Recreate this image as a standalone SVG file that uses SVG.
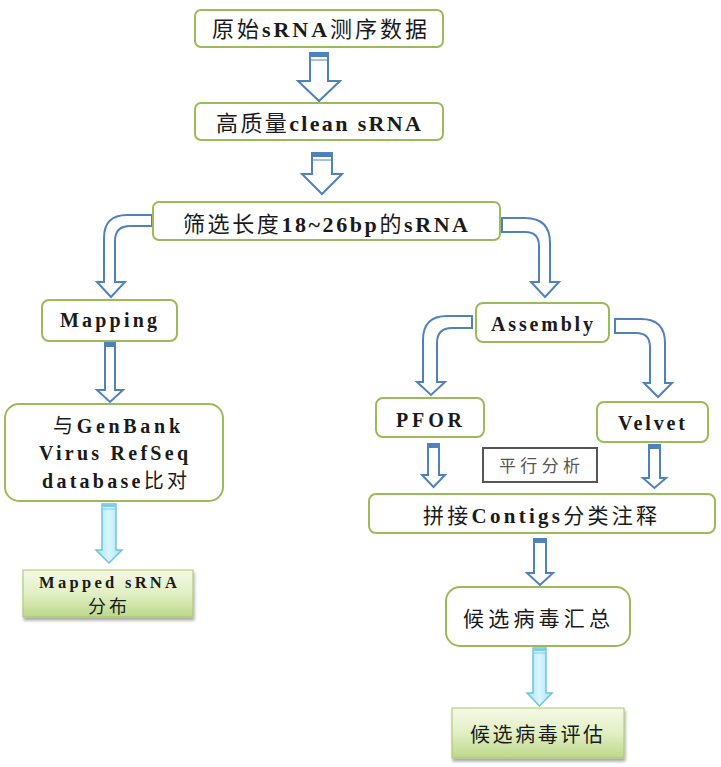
<svg xmlns="http://www.w3.org/2000/svg" width="721" height="767" viewBox="0 0 721 767">
<defs>
<linearGradient id="gGreen" x1="0" y1="0" x2="0" y2="1">
<stop offset="0" stop-color="#f4f9e6"/>
<stop offset="0.5" stop-color="#e2efc4"/>
<stop offset="1" stop-color="#bcd88a"/>
</linearGradient>
<linearGradient id="gCyan" x1="0" y1="0" x2="1" y2="0">
<stop offset="0" stop-color="#a6e3f5"/>
<stop offset="0.5" stop-color="#d9f6ff"/>
<stop offset="1" stop-color="#a6e3f5"/>
</linearGradient>
<filter id="sh" x="-10%" y="-10%" width="130%" height="140%">
<feGaussianBlur in="SourceAlpha" stdDeviation="1.5"/>
<feOffset dx="1" dy="3" result="b"/>
<feComponentTransfer><feFuncA type="linear" slope="0.35"/></feComponentTransfer>
<feMerge><feMergeNode/><feMergeNode in="SourceGraphic"/></feMerge>
</filter>
</defs>
<style>
.node{fill:#ffffff;stroke:#9bbb59;stroke-width:2}
.gnode{fill:url(#gGreen);stroke:#a9c66c;stroke-width:1}
.arr{fill:#ffffff;stroke:#4f81bd;stroke-width:2;stroke-linejoin:miter}
.carr{fill:url(#gCyan);stroke:#6fc3dc;stroke-width:1.5}
.cap{fill:#4f81bd}
.capc{fill:#7ccde4}
.t{font-family:"Liberation Serif","Noto Sans CJK SC",serif;font-weight:bold;fill:#1a1a1a;text-anchor:middle}
.c{font-family:"Noto Sans CJK SC","Noto Sans",sans-serif;font-weight:normal}
.gray{font-family:"Noto Sans CJK SC",sans-serif;fill:#555555;text-anchor:middle;font-size:17px}
</style>

<g id="connectors">
<path class="arr" d="M310,53 H328 V81 H340 L319,101 L298,81 H310 Z"/>
<rect class="cap" x="311" y="54" width="16" height="3"/>
<line x1="311" y1="60" x2="327" y2="60" stroke="#4f81bd" stroke-width="1"/>

<path class="arr" d="M312,153 H332 V174 H342 L322,194 L302,174 H312 Z"/>
<rect class="cap" x="313" y="154" width="18" height="3"/>
<line x1="313" y1="160" x2="331" y2="160" stroke="#4f81bd" stroke-width="1"/>

<path class="arr" d="M152,215 H127 Q104,215 104,238 V282 H97 L111,297 L125,282 H115 V241 Q115,226 130,226 H152 Z"/>
<path class="arr" d="M502,218 H525 Q550,218 550,243 V282 H559 L545,297 L531,282 H539 V246 Q539,232 525,232 H502 Z"/>

<path class="arr" d="M105,343 H115 V390 H123 L110,402 L97,390 H105 Z"/>
<rect class="cap" x="106" y="344" width="8" height="3"/>

<path class="carr" d="M102,504 H116 V550 H122 L109,563 L96,550 H102 Z"/>
<rect class="capc" x="103" y="505" width="12" height="2"/>
<line x1="103" y1="509" x2="115" y2="509" stroke="#7ccde4" stroke-width="1"/>

<path class="arr" d="M472,316 H447 Q423,316 423,340 V382 H417 L431,395 L445,382 H437 V343 Q437,328 452,328 H472 Z"/>
<path class="arr" d="M615,319 H641 Q665,319 665,343 V383 H672 L658,397 L644,383 H650 V347 Q650,333 636,333 H615 Z"/>

<path class="arr" d="M428,444 H439 V475 H445 L433.5,487 L422,475 H428 Z"/>
<rect class="cap" x="429" y="445" width="9" height="3"/>
<path class="arr" d="M649,445 H660 V478 H666 L654.5,488 L643,478 H649 Z"/>
<rect class="cap" x="650" y="446" width="9" height="3"/>

<path class="arr" d="M534,539 H546 V573 H553 L540,585 L527,573 H534 Z"/>
<rect class="cap" x="535" y="540" width="10" height="3"/>

<path class="carr" d="M533,648 H546 V693 H552 L539.5,706 L527,693 H533 Z"/>
<rect class="capc" x="534" y="649" width="11" height="2"/>
<line x1="534" y1="653" x2="545" y2="653" stroke="#7ccde4" stroke-width="1"/>
</g>

<g id="n1">
<rect class="node" x="195" y="10" width="248" height="37" rx="6"/>
<text class="t" x="319.5" y="37" font-size="22" textLength="215" lengthAdjust="spacing"><tspan class="c">原始</tspan>sRNA<tspan class="c">测序数据</tspan></text>
</g>

<g id="n2">
<rect class="node" x="195" y="103" width="248" height="37" rx="6"/>
<text class="t" x="318.5" y="131" font-size="22" textLength="205" lengthAdjust="spacing"><tspan class="c">高质量</tspan>clean sRNA</text>
</g>

<g id="n3">
<rect class="node" x="153" y="202" width="347" height="38" rx="6"/>
<text class="t" x="325.5" y="232" font-size="22" textLength="285" lengthAdjust="spacing"><tspan class="c">筛选长度</tspan>18~26bp<tspan class="c">的</tspan>sRNA</text>
</g>

<g id="n_mapping">
<rect class="node" x="42" y="300" width="135" height="41" rx="7"/>
<text class="t" x="108.5" y="327" font-size="20" textLength="97" lengthAdjust="spacing">Mapping</text>
</g>

<g id="n_genbank">
<rect class="node" x="5" y="404" width="218" height="97" rx="14"/>
<text class="t" x="116.5" y="433" font-size="20" textLength="127" lengthAdjust="spacing"><tspan class="c">与</tspan>GenBank</text>
<text class="t" x="113.5" y="460" font-size="20" textLength="149" lengthAdjust="spacing">Virus RefSeq</text>
<text class="t" x="114.5" y="488" font-size="20" textLength="145" lengthAdjust="spacing">database<tspan class="c">比对</tspan></text>
</g>

<g id="n_mapped">
<rect class="gnode" x="23" y="570" width="170" height="47" filter="url(#sh)"/>
<text class="t" x="108" y="588" font-size="16.5" textLength="138" lengthAdjust="spacing">Mapped sRNA</text>
<text class="t" x="107.5" y="613" font-size="18" textLength="39" lengthAdjust="spacing"><tspan class="c">分布</tspan></text>
</g>

<g id="n_assembly">
<rect class="node" x="476" y="303" width="133" height="39" rx="7"/>
<text class="t" x="542" y="331" font-size="20" textLength="102" lengthAdjust="spacing">Assembly</text>
</g>

<g id="n_pfor">
<rect class="node" x="376" y="398" width="108" height="39" rx="7"/>
<text class="t" x="429" y="427" font-size="20" textLength="66" lengthAdjust="spacing">PFOR</text>
</g>

<g id="n_velvet">
<rect class="node" x="597" y="402" width="111" height="40" rx="7"/>
<text class="t" x="651.5" y="430" font-size="20" textLength="67" lengthAdjust="spacing">Velvet</text>
</g>

<g id="n_parallel">
<rect x="483" y="448" width="114" height="34" fill="#ffffff" stroke="#555555" stroke-width="2"/>
<text class="gray" x="539.5" y="472" textLength="81" lengthAdjust="spacing">平行分析</text>
</g>

<g id="n_contigs">
<rect class="node" x="369" y="494" width="346" height="39" rx="7"/>
<text class="t" x="540" y="523" font-size="21" textLength="234" lengthAdjust="spacing"><tspan class="c">拼接</tspan>Contigs<tspan class="c">分类注释</tspan></text>
</g>

<g id="n_summary">
<rect class="node" x="446" y="587" width="184" height="59" rx="14"/>
<text class="t" x="536.5" y="626" font-size="21" textLength="147" lengthAdjust="spacing"><tspan class="c">候选病毒汇总</tspan></text>
</g>

<g id="n_eval">
<rect class="gnode" x="452" y="708" width="172" height="50" filter="url(#sh)"/>
<text class="t" x="536.5" y="742" font-size="20" textLength="133" lengthAdjust="spacing"><tspan class="c">候选病毒评估</tspan></text>
</g>
</svg>
